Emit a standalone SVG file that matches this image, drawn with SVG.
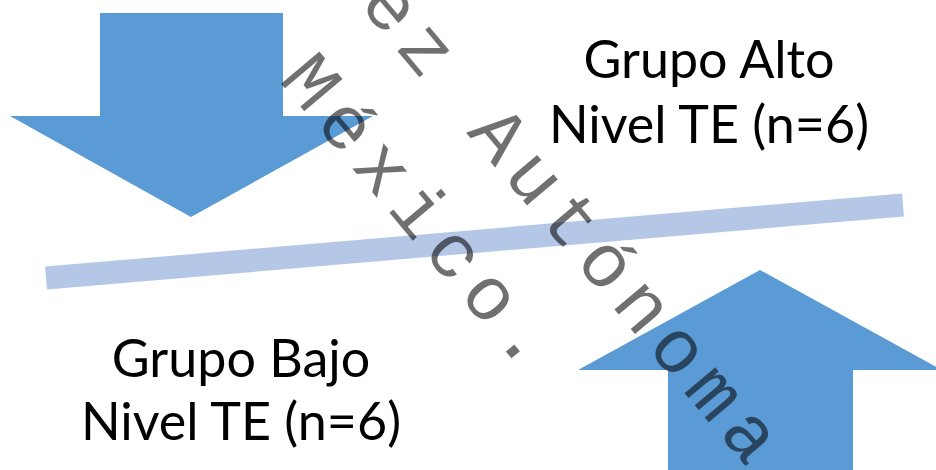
<svg xmlns="http://www.w3.org/2000/svg" width="936" height="470" viewBox="0 0 936 470">
<style>
.arrow{fill:#5b9bd5}
.label{font-family:Lato,"Liberation Sans",sans-serif;font-size:52px;fill:#000;text-anchor:middle}
.wm{font-family:"Liberation Mono","DejaVu Sans Mono",monospace;font-size:76px;letter-spacing:10.4px;fill:#000;fill-opacity:0.56}
</style>
<rect width="936" height="470" fill="#fff"/>
<g id="arrow-down"><polygon class="arrow" points="100,13 283,13 283,116 373,116 191,217 10,116 100,116"/></g>
<g id="arrow-up"><polygon class="arrow" points="760,270 942,370 853,370 853,470 668,470 668,370 578,370"/></g>
<g id="connectors"><line x1="46" y1="278" x2="903" y2="205" stroke="#b4c7e7" stroke-width="23"/></g>
<g id="label-alto"><text class="label" x="709" y="78">Grupo Alto</text><text class="label" x="709" y="143">Nivel TE (n=6)</text></g>
<g id="label-bajo"><text class="label" x="241" y="377">Grupo Bajo</text><text class="label" x="241" y="440">Nivel TE (n=6)</text></g>
<g id="watermark">
<text class="wm" transform="translate(358,4) rotate(50)">ez Autónoma</text>
<text class="wm" transform="translate(278,80) rotate(50)">México.</text>
</g>
</svg>
